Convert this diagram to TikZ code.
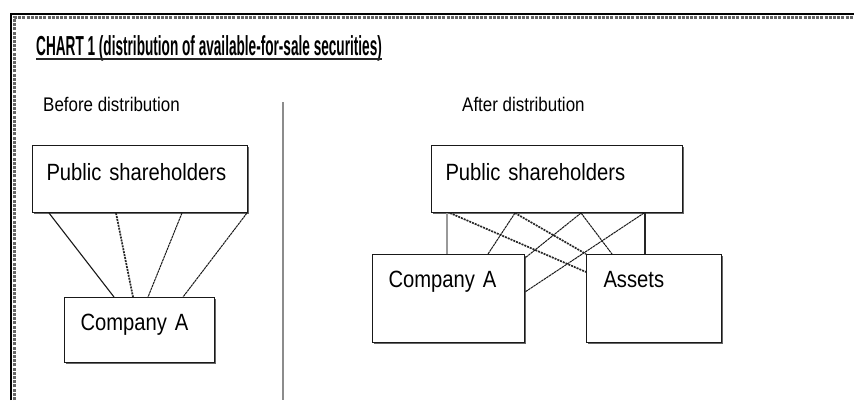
\documentclass[tikz,border=0pt]{standalone}
\usepackage{fontspec}
\setmainfont{Liberation Sans}[FakeStretch=0.86]
\newfontfamily\titlefont{Liberation Sans}[FakeStretch=0.495]
\usetikzlibrary{shadows}

\tikzset{
  holder/.style={draw=black!90, line width=1pt, fill=white, anchor=north west,
    align=left, inner ysep=0pt,
    drop shadow={shadow xshift=1.6pt, shadow yshift=-1.6pt, fill=black!60, opacity=1},
    font=\fontsize{23.5}{26}\selectfont},
  linkthin/.style={black!90, line width=1pt, dash pattern=on 2.5pt off 0.6pt},
  linkthick/.style={black!85, line width=1.7pt, dash pattern=on 2pt off 1pt},
  subhead/.style={anchor=base west, inner sep=0pt, font=\fontsize{19.7}{22}\selectfont}
}

\begin{document}
\begin{tikzpicture}[x=1pt,y=-1pt]
    \useasboundingbox (0,0) rectangle (854,400);
    \fill[white] (0,0) rectangle (854,400);

    % frame
    \draw[black!60, line width=2.5pt, dash pattern=on 3pt off 1.2pt] (14.5,400) -- (14.5,17.3) -- (854,17.3);
    \draw[black, line width=2pt] (11,400) -- (11,14.3) -- (854,14.3);

    % title
    \node[anchor=base west, inner sep=0pt, font=\titlefont\bfseries\fontsize{27.5}{30}\selectfont]
      (title) at (36,55) {CHART 1 (distribution of available-for-sale securities)};
    \draw[black!85, line width=1.8pt] ([yshift=-4pt]title.base west) -- ([yshift=-4pt]title.base east);

    \node[subhead] (before) at (43,111) {Before distribution};
    \node[subhead] (after) at (462,111) {After distribution};

    \draw[black!45, line width=2pt] (283,102) -- (283,400); % divider

    % before distribution
    \node[holder, text width=187pt, inner xsep=14pt, text height=35pt, text depth=32pt]
      (lpub) at (32,145) {Public shareholders};
    \node[holder, text width=118pt, inner xsep=16pt, text height=33pt, text depth=32pt]
      (lcomp) at (64,297) {Company A};

    \draw[black!90, line width=1.1pt] ([xshift=17pt]lpub.south west) -- ([xshift=50pt]lcomp.north west);
    \draw[linkthick] ([xshift=84pt]lpub.south west) -- ([xshift=69pt]lcomp.north west);
    \draw[linkthin] ([xshift=150pt]lpub.south west) -- ([xshift=84pt]lcomp.north west);
    \draw[linkthin] ([xshift=-1pt]lpub.south east) -- ([xshift=119pt]lcomp.north west);

    % after distribution
    \node[holder, text width=223pt, inner xsep=14pt, text height=35pt, text depth=32pt]
      (rpub) at (431,145) {Public shareholders};
    \node[holder, text width=120pt, inner xsep=16pt, text height=33pt, text depth=55pt]
      (rcomp) at (372,254) {Company A};
    \node[holder, text width=101pt, inner xsep=17pt, text height=33pt, text depth=55pt]
      (rass) at (586,254) {Assets};

    \draw[black!40, line width=2.5pt] ([xshift=16pt]rpub.south west) -- ([xshift=75pt]rcomp.north west);
    \draw[black!85, line width=2.5pt] ([xshift=214pt]rpub.south west) -- ([xshift=59pt]rass.north west);
    \draw[linkthick] ([xshift=19pt]rpub.south west) -- ([yshift=-18pt]rass.north west);
    \draw[linkthick] ([xshift=84pt]rpub.south west) -- (rass.north west);
    \draw[linkthin] ([xshift=84pt]rpub.south west) -- ([xshift=116pt]rcomp.north west);
    \draw[linkthin] ([xshift=150pt]rpub.south west) -- ([yshift=-4pt]rcomp.north east);
    \draw[linkthin] ([xshift=150pt]rpub.south west) -- ([xshift=26pt]rass.north west);
    \draw[linkthin] ([xshift=213pt]rpub.south west) -- ([yshift=-38pt]rcomp.north east);
\end{tikzpicture}
\end{document}
